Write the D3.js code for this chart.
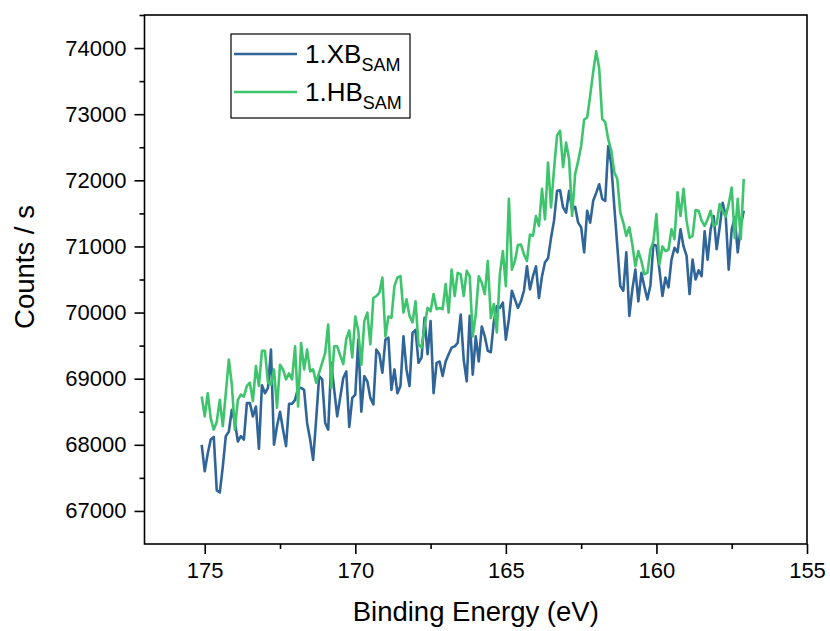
<!DOCTYPE html>
<html>
<head>
<meta charset="utf-8">
<script src="https://cdn.jsdelivr.net/npm/d3@7/dist/d3.min.js"></script>
<style>
  html, body { margin: 0; padding: 0; background: #fff; }
  svg { display: block; }
  text { font-family: Arial, "Liberation Sans", sans-serif; fill: #000; }
</style>
</head>
<body>
<svg id="chart" width="830" height="631"></svg>
<script>
// ---- data ----
const energyStart = 175.1;   // eV, first sample
const energyStep = 0.1;      // eV between samples (decreasing)
const seriesNames = ["1.XB", "1.HB"];
const seriesSubs = ["SAM", "SAM"];
const xbCounts = [
68000,67600,67870,68080,68120,67310,67280,67670,68130,68200,
68530,68350,68050,68130,68080,68630,68630,68430,68580,67940,
68900,68780,68860,69440,68000,68280,68500,68230,67980,68620,
68620,68680,68860,68860,68830,68330,68080,67770,68380,69040,
68990,68330,68230,69240,68830,68430,68720,69010,69110,68270,
68710,68760,69590,68500,69040,68960,68710,68610,69440,69370,
69090,69590,69620,68830,69140,68780,68890,69640,69140,68890,
69690,69740,69240,69320,69920,69370,69870,68780,69240,69260,
69040,69260,69370,69470,69490,69540,69970,69290,68960,69950,
69060,69640,69260,69790,69640,69420,69400,69860,70100,70070,
70150,69590,69900,70330,70200,70070,70170,70330,70700,70350,
70550,70700,70220,70550,70760,70820,71130,71390,71840,71850,
71590,71510,71840,71560,71600,71360,71290,70910,71540,71360,
71690,71810,71940,71720,71690,72520,72240,71610,71010,70400,
70330,70910,69950,70350,70650,70170,70600,70390,70200,70410,
71030,71010,70650,70250,70530,70380,70800,70980,70910,71260,
71000,70860,70280,70800,70500,70640,70550,71230,70800,71260,
71460,70960,71290,71660,71460,70650,71260,71440,70910,71310,
71540];
const hbCounts = [
68730,68430,68780,68400,68230,68350,68680,68280,68780,69290,
68910,68230,68680,68760,68730,68890,68940,68660,69190,68890,
69420,69420,68940,68910,69140,68560,69210,69140,68990,69080,
68990,69490,68580,69540,69140,69440,69110,69140,68940,69090,
69240,69390,69820,68860,69490,69490,69350,69220,69600,69730,
69320,69940,69720,69210,69870,70000,69520,70220,70250,70300,
70530,69640,69940,69920,70400,70530,70550,70000,70200,69950,
69850,70170,69520,69470,69790,70070,70020,70280,70050,70070,
70050,70430,70000,70650,70250,70600,70580,70250,70630,70550,
69640,69970,70550,70450,70280,70780,69920,70130,69700,70580,
70930,70400,71720,70650,70780,71020,71030,70880,70780,71180,
71160,71460,71310,71870,71410,72270,71590,72170,72680,72750,
72200,72570,72320,71460,72090,72290,72520,72920,72950,73280,
73640,73950,73690,72930,72880,72620,72450,72120,72020,71510,
71360,71160,71290,71030,70700,70930,70780,70580,70600,70950,
71080,71490,70730,71000,70930,70950,71260,71110,71820,71460,
71870,71390,71130,71160,71550,71540,71390,71310,71410,71540,
71310,71340,71640,71540,71450,71640,71890,71130,71720,71110,
72020];
const xMajorTicks = [175, 170, 165, 160, 155];
const xMinorTicks = [172.5, 167.5, 162.5, 157.5];
const yMajorTicks = [67000, 68000, 69000, 70000, 71000, 72000, 73000, 74000];
const yMinorTicks = [67500, 68500, 69500, 70500, 71500, 72500, 73500, 74500];
const xTitle = "Binding Energy (eV)";
const yTitle = "Counts / s";

// ---- layout ----
const colors = ["#2f6598", "#3ec46d"];
const L = 144.5, R = 807, T = 15, B = 544;
const svg = d3.select("#chart");

const x = d3.scaleLinear().domain([177, 155]).range([L, R]);
const y = d3.scaleLinear().domain([66500, 74500]).range([B, T]);

const energies = xbCounts.map((_, i) => +(energyStart - energyStep * i).toFixed(2));

// lines
const line = d3.line().x(d => x(d[0])).y(d => y(d[1]));
[xbCounts, hbCounts].forEach((vals, k) => {
  svg.append("path")
    .datum(vals.map((v, i) => [energies[i], v]))
    .attr("fill", "none")
    .attr("stroke", colors[k])
    .attr("stroke-width", 2.6)
    .attr("stroke-linejoin", "round")
    .attr("d", line);
});

// axes
const xAxis = svg.append("g").attr("transform", `translate(0,${B})`)
  .call(d3.axisBottom(x).tickValues(xMajorTicks).tickSize(10).tickPadding(8).tickFormat(d3.format("d")));
const xAxisMinor = svg.append("g").attr("transform", `translate(0,${B})`)
  .call(d3.axisBottom(x).tickValues(xMinorTicks).tickSize(5).tickFormat(""));
const yAxis = svg.append("g").attr("transform", `translate(${L},0)`)
  .call(d3.axisLeft(y).tickValues(yMajorTicks).tickSize(10).tickPadding(8).tickFormat(d3.format("d")));
const yAxisMinor = svg.append("g").attr("transform", `translate(${L},0)`)
  .call(d3.axisLeft(y).tickValues(yMinorTicks).tickSize(5).tickFormat(""));

[xAxis, xAxisMinor, yAxis, yAxisMinor].forEach(g => {
  g.select(".domain").remove();
  g.selectAll("line").attr("stroke", "#000").attr("stroke-width", 1.6);
  g.selectAll("text").attr("font-size", 22).attr("fill", "#000")
    .style("font-family", "Arial, 'Liberation Sans', sans-serif");
});

// frame
svg.append("rect").attr("x", L).attr("y", T).attr("width", R - L).attr("height", B - T)
  .attr("fill", "none").attr("stroke", "#000").attr("stroke-width", 1.6);

// titles
svg.append("text").attr("x", (L + R) / 2).attr("y", 621).attr("text-anchor", "middle")
  .attr("font-size", 27.5).text(xTitle);
svg.append("text").attr("transform", `translate(34,267) rotate(-90)`).attr("text-anchor", "middle")
  .attr("font-size", 27.5).text(yTitle);

// legend
const lg = svg.append("g");
lg.append("rect").attr("x", 231).attr("y", 34).attr("width", 179).attr("height", 84)
  .attr("fill", "#fff").attr("stroke", "#000").attr("stroke-width", 1.2);
const rowsY = [54, 92];
seriesNames.forEach((nm, k) => {
  lg.append("line").attr("x1", 234).attr("x2", 297).attr("y1", rowsY[k]).attr("y2", rowsY[k])
    .attr("stroke", colors[k]).attr("stroke-width", 2.6);
  const t = lg.append("text").attr("x", 305).attr("y", rowsY[k] + 9).attr("font-size", 26);
  t.append("tspan").text(nm);
  t.append("tspan").attr("font-size", 18).attr("dy", 8).text(seriesSubs[k]);
});
</script>
</body>
</html>
